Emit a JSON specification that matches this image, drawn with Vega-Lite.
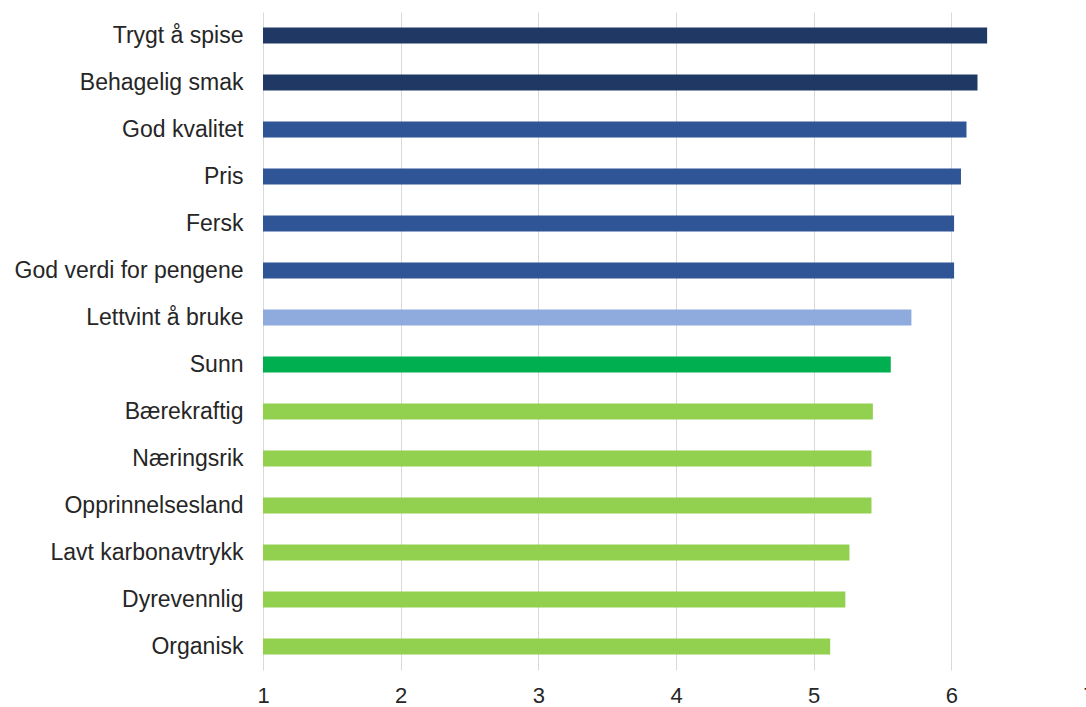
{
  "$schema": "https://vega.github.io/schema/vega-lite/v6.json",
  "width": 826,
  "height": 658,
  "autosize": {"type": "none"},
  "padding": {"left": 263, "top": 12, "right": 0, "bottom": 37},
  "background": "white",
  "config": {
    "view": {"stroke": null},
    "font": "Liberation Sans"
  },
  "data": {
    "values": [
      {"egenskap": "Trygt å spise", "verdi": 6.26, "gruppe": "a"},
      {"egenskap": "Behagelig smak", "verdi": 6.19, "gruppe": "a"},
      {"egenskap": "God kvalitet", "verdi": 6.11, "gruppe": "b"},
      {"egenskap": "Pris", "verdi": 6.07, "gruppe": "b"},
      {"egenskap": "Fersk", "verdi": 6.02, "gruppe": "b"},
      {"egenskap": "God verdi for pengene", "verdi": 6.02, "gruppe": "b"},
      {"egenskap": "Lettvint å bruke", "verdi": 5.71, "gruppe": "c"},
      {"egenskap": "Sunn", "verdi": 5.56, "gruppe": "d"},
      {"egenskap": "Bærekraftig", "verdi": 5.43, "gruppe": "e"},
      {"egenskap": "Næringsrik", "verdi": 5.42, "gruppe": "e"},
      {"egenskap": "Opprinnelsesland", "verdi": 5.42, "gruppe": "e"},
      {"egenskap": "Lavt karbonavtrykk", "verdi": 5.26, "gruppe": "e"},
      {"egenskap": "Dyrevennlig", "verdi": 5.23, "gruppe": "e"},
      {"egenskap": "Organisk", "verdi": 5.12, "gruppe": "e"}
    ]
  },
  "mark": {"type": "bar", "clip": false},
  "encoding": {
    "y": {
      "field": "egenskap",
      "type": "nominal",
      "sort": null,
      "title": null,
      "scale": {"paddingInner": 0.66, "paddingOuter": 0.33},
      "axis": {
        "domain": false,
        "ticks": false,
        "grid": false,
        "labelFontSize": 23,
        "labelColor": "#262626",
        "labelPadding": 20,
        "labelLimit": 300
      }
    },
    "x": {
      "field": "verdi",
      "type": "quantitative",
      "title": null,
      "scale": {"domain": [1, 7], "zero": false, "nice": false},
      "axis": {
        "values": [1, 2, 3, 4, 5, 6, 7],
        "domain": false,
        "ticks": false,
        "grid": true,
        "gridColor": "#d9d9d9",
        "gridWidth": 1,
        "labelFontSize": 22,
        "labelColor": "#262626",
        "labelPadding": 15,
        "labelFlush": false
      }
    },
    "x2": {"datum": 1},
    "color": {
      "field": "gruppe",
      "type": "nominal",
      "legend": null,
      "scale": {
        "domain": ["a", "b", "c", "d", "e"],
        "range": ["#203864", "#2F5597", "#8FAADC", "#00B050", "#92D050"]
      }
    }
  }
}
